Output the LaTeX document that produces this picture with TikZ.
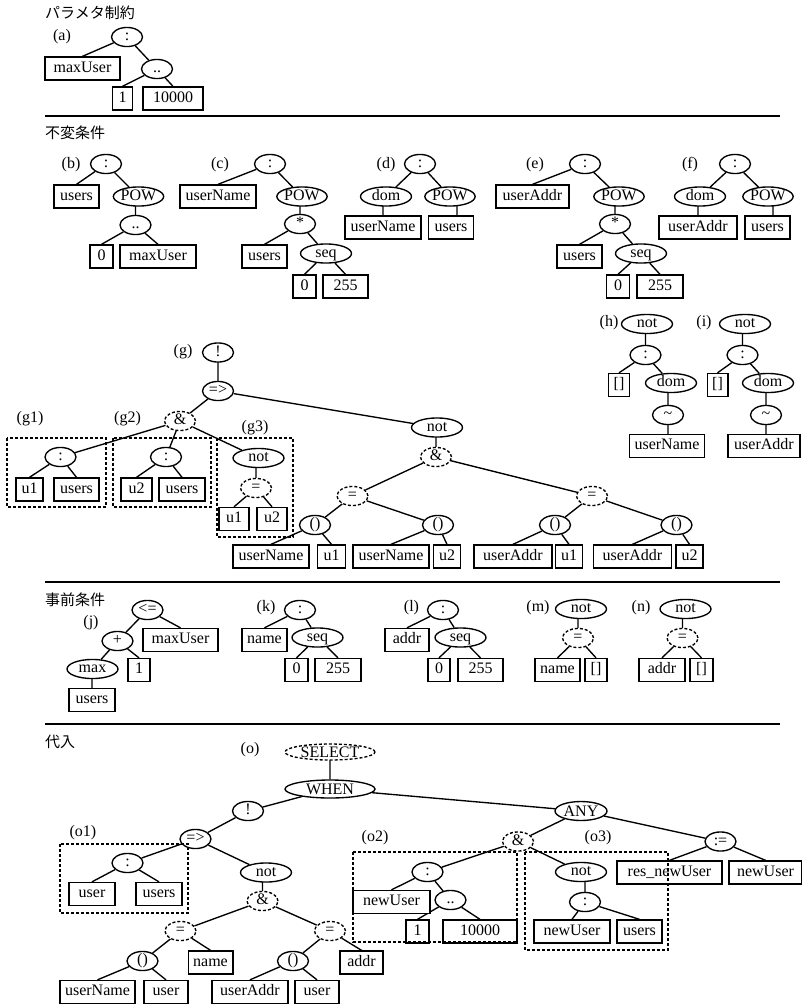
\documentclass[tikz,border=0pt]{standalone}
\usepackage{fontspec}
\setmainfont{Liberation Serif}
\newfontfamily\jpfont{Noto Sans CJK JP}
\usetikzlibrary{shapes.geometric,backgrounds}

\tikzset{
  txt/.style={font=\fontsize{16}{19}\selectfont},
  bx/.style={txt, draw, fill=white, rectangle, line width=1.35pt, inner xsep=5pt, inner ysep=0pt,
             minimum height=23pt, text height=10.5pt, text depth=3pt},
  el/.style={txt, draw, fill=white, ellipse, line width=1.35pt, inner sep=0pt,
             minimum width=31pt, minimum height=19pt, text height=10.5pt, text depth=3pt},
  elw/.style={el, minimum width=51pt},
  dsh/.style={dash pattern=on 3pt off 2pt},
  del/.style={el, dsh},
  caps/.style={text height=10.5pt, text depth=0pt},
  lbl/.style={txt, inner sep=0pt},
  ttl/.style={font=\jpfont\fontsize{15}{18}\selectfont, anchor=west, inner sep=0pt},
  ln/.style={line width=1.35pt},
  grp/.style={draw, line width=1.35pt, dsh},
  secline/.style={line width=1.7pt},
}

\begin{document}
\begin{tikzpicture}[x=1pt,y=-1pt]
\useasboundingbox (0,0) rectangle (802,1005);

% ---------- parameter constraint ----------
\node[ttl] (t1) at (45,13) {パラメタ制約};
\node[lbl] (la) at (62,37) {(a)};
\node[el] (a0) at (127,37) {:};
\node[bx, minimum width=75pt] (a1) at (82.5,68.5) {maxUser};
\node[el] (a2) at (157,69) {..};
\node[bx, minimum width=20pt] (a3) at (122.5,98.5) {1};
\node[bx, minimum width=60pt] (a4) at (173,98.5) {10000};

\draw[secline] (45,116) -- (780,116);

% ---------- invariants ----------
\node[ttl] (t2) at (45,133) {不変条件};

% (b)
\node[lbl] (lb) at (71,165) {(b)};
\node[el] (b0) at (106,164) {:};
\node[bx, minimum width=45pt] (b1) at (76.5,196.5) {users};
\node[el] (b2) at (138.5,196.5) {POW};
\node[el] (b3) at (135.5,225) {..};
\node[bx, minimum width=23pt] (b4) at (101.5,256.5) {0};
\node[bx, minimum width=76pt] (b5) at (158,256.5) {maxUser};

% (c)
\node[lbl] (lc) at (220,165) {(c)};
\node[el] (c0) at (270,164) {:};
\node[bx, minimum width=76pt] (c1) at (218,196.5) {userName};
\node[el] (c2) at (302,196.5) {POW};
\node[el] (c3) at (300,224) {*};
\node[bx, minimum width=45pt] (c4) at (264.5,256.5) {users};
\node[elw] (c5) at (326,253.5) {seq};
\node[bx, minimum width=23pt] (c6) at (304.5,286.5) {0};
\node[bx, minimum width=45pt] (c7) at (345.5,286.5) {255};

% (d)
\node[lbl] (ld) at (386,165) {(d)};
\node[el] (d0) at (420,164) {:};
\node[elw] (d1) at (386,196.5) {dom};
\node[el] (d2) at (450,196.5) {POW};
\node[bx, minimum width=76pt] (d3) at (383,227.5) {userName};
\node[bx, minimum width=45pt] (d4) at (451,227.5) {users};
\coordinate (d4x) at ([xshift=6pt]d4.center);

% (e)
\node[lbl] (le) at (535,165) {(e)};
\node[el] (e0) at (585,164) {:};
\node[bx, minimum width=73pt] (e1) at (532.5,196.5) {userAddr};
\node[el] (e2) at (619,196.5) {POW};
\node[el] (e3) at (615,224) {*};
\node[bx, minimum width=45pt] (e4) at (579.5,256.5) {users};
\node[elw] (e5) at (641,253.5) {seq};
\node[bx, minimum width=23pt] (e6) at (618,286.5) {0};
\node[bx, minimum width=46pt] (e7) at (660,286.5) {255};

% (f)
\node[lbl] (lf) at (690,165) {(f)};
\node[el] (f0) at (735,164) {:};
\node[elw] (f1) at (700,196.5) {dom};
\node[el] (f2) at (768,196.5) {POW};
\node[bx, minimum width=78pt] (f3) at (698,227.5) {userAddr};
\node[bx, minimum width=45pt] (f4) at (767.5,227.5) {users};
\coordinate (f4x) at ([xshift=5.5pt]f4.center);

% (g)
\node[lbl] (lg) at (183,352) {(g)};
\node[el] (g0) at (218,352.5) {!};
\node[el] (g1) at (218,391) {=>};
\node[del] (g2) at (180,421) {\&};
\node[lbl] (lg1) at (30,419) {(g1)};
\node[lbl] (lg2) at (127.5,419) {(g2)};
\node[lbl] (lg3) at (255,428) {(g3)};
\node[el] (ga) at (60.5,457) {:};
\node[bx, minimum width=27pt] (gau) at (29.5,489.5) {u1};
\node[bx, minimum width=45pt] (gas) at (76.5,489.5) {users};
\node[el] (gb) at (166,457) {:};
\node[bx, minimum width=31pt] (gbu) at (136.5,489.5) {u2};
\node[bx, minimum width=46pt] (gbs) at (182,489.5) {users};
\node[elw] (gc) at (258.5,458) {not};
\node[del] (gd) at (256,488) {=};
\node[bx, minimum width=30pt] (gd1) at (234,519) {u1};
\node[bx, minimum width=30pt] (gd2) at (272,519) {u2};
\node[elw] (g7) at (437,427.5) {not};
\node[del] (g8) at (436,457) {\&};
\node[del] (g9) at (352.5,496) {=};
\node[del] (g10) at (592,496) {=};
\node[el] (p1) at (315,525) {()};
\node[el] (p2) at (438,525) {()};
\node[el] (p3) at (555,525) {()};
\node[el] (p4) at (676.5,525) {()};
\node[bx, minimum width=76pt] (q1) at (271,556.5) {userName};
\node[bx, minimum width=28pt] (q2) at (331.5,556.5) {u1};
\node[bx, minimum width=76pt] (q3) at (391,556.5) {userName};
\node[bx, minimum width=27pt] (q4) at (447,556.5) {u2};
\node[bx, minimum width=78pt] (q5) at (513,556.5) {userAddr};
\node[bx, minimum width=27pt] (q6) at (569,556.5) {u1};
\node[bx, minimum width=78pt] (q7) at (632.5,556.5) {userAddr};
\node[bx, minimum width=27pt] (q8) at (689.5,556.5) {u2};

% (h)
\node[lbl] (lh) at (609,323) {(h)};
\node[elw] (h0) at (647,324) {not};
\node[el] (h1) at (645.5,355) {:};
\node[bx, minimum width=20pt] (h2) at (619,385) {[]};
\node[elw] (h3) at (671,383) {dom};
\node[el] (h4) at (668,415) {\textasciitilde};
\node[bx, minimum width=72pt] (h5) at (667,446) {userName};

% (i)
\node[lbl] (li) at (704,323) {(i)};
\node[elw] (i0) at (745,324) {not};
\node[el] (i1) at (742.5,355) {:};
\node[bx, minimum width=18pt] (i2) at (717.5,385) {[]};
\node[elw] (i3) at (768,383) {dom};
\node[el] (i4) at (766,415) {\textasciitilde};
\node[bx, minimum width=72pt] (i5) at (764,446) {userAddr};

\draw[secline] (45,582) -- (780,582);

% ---------- preconditions ----------
\node[ttl] (t3) at (45,600) {事前条件};

% (j)
\node[lbl] (lj) at (91,623) {(j)};
\node[el] (j0) at (147.5,610) {<=};
\node[el] (j1) at (117.5,641) {+};
\node[bx, minimum width=75pt] (j2) at (180.5,640) {maxUser};
\node[elw] (j3) at (92.5,669) {max};
\node[bx, minimum width=22pt] (j4) at (139,670) {1};
\node[bx, minimum width=46pt] (j5) at (92,700) {users};

% (k)
\node[lbl] (lk) at (266,608) {(k)};
\node[el] (k0) at (300,610) {:};
\node[bx, minimum width=45pt] (k1) at (264.5,640) {name};
\node[elw] (k2) at (317.5,637.5) {seq};
\node[bx, minimum width=23pt] (k3) at (296.5,670) {0};
\node[bx, minimum width=46pt] (k4) at (338,670) {255};

% (l)
\node[lbl] (ll) at (411.5,608) {(l)};
\node[el] (l0) at (443,610) {:};
\node[bx, minimum width=44pt] (l1) at (407,640) {addr};
\node[elw] (l2) at (460.5,637.5) {seq};
\node[bx, minimum width=22pt] (l3) at (439,670) {0};
\node[bx, minimum width=45pt] (l4) at (480.5,670) {255};

% (m)
\node[lbl] (lm) at (538,608) {(m)};
\node[elw] (m0) at (581,609) {not};
\node[del] (m1) at (578,638) {=};
\node[bx, minimum width=45pt] (m2) at (557.5,670) {name};
\node[bx, minimum width=22pt] (m3) at (596,670) {[]};

% (n)
\node[lbl] (ln) at (641,608) {(n)};
\node[elw] (n0) at (685.5,609) {not};
\node[del] (n1) at (682.5,638) {=};
\node[bx, minimum width=46pt] (n2) at (662,670) {addr};
\node[bx, minimum width=23pt] (n3) at (701.5,670) {[]};

\draw[secline] (45,724) -- (780,724);

% ---------- substitution ----------
\node[ttl] (t4) at (45,742) {代入};
\node[lbl] (lo) at (250,750) {(o)};
\node[del, caps, minimum width=90pt, minimum height=16pt] (o0) at (330,752) {SELECT};
\node[el, caps, minimum width=90pt, minimum height=18pt] (o1) at (330,789) {WHEN};
\node[el] (o2) at (248,811) {!};
\node[el] (o3) at (195.5,839) {=>};
\node[lbl] (lo1) at (83,833) {(o1)};
\node[el] (o4) at (127.5,863) {:};
\node[bx, minimum width=46pt] (o5) at (92,894) {user};
\node[bx, minimum width=46pt] (o6) at (159,894) {users};
\node[elw] (o7) at (266,872.5) {not};
\node[del] (o8) at (262.5,901) {\&};
\node[del] (o9) at (180.5,931) {=};
\node[el] (o10) at (142.5,961) {()};
\node[bx, minimum width=39pt] (o11) at (210.5,962.5) {name};
\node[bx, minimum width=71pt] (o12) at (97.5,992) {userName};
\node[bx, minimum width=44pt] (o13) at (166,992) {user};
\node[del] (o14) at (330,931) {=};
\node[el] (o15) at (293,961) {()};
\node[bx, minimum width=43pt] (o16) at (361.5,962.5) {addr};
\node[bx, minimum width=76pt] (o17) at (250,992) {userAddr};
\node[bx, minimum width=44pt] (o18) at (317,992) {user};
\node[lbl] (lo2) at (375,838) {(o2)};
\node[el, caps, minimum width=52pt] (o19) at (581,811) {ANY};
\node[del] (o20) at (518,841.5) {\&};
\node[lbl] (lo3) at (598,838) {(o3)};
\node[el] (o21) at (427.5,872) {:};
\node[bx, minimum width=77pt] (o22) at (391.5,902) {newUser};
\node[el] (o23) at (450.5,900) {..};
\node[bx, minimum width=23pt] (o24) at (417.5,931.5) {1};
\node[bx, minimum width=74pt] (o25) at (480,931.5) {10000};
\node[elw] (o26) at (581,872) {not};
\node[el] (o27) at (585,902) {:};
\node[bx, minimum width=76pt] (o28) at (572,931.5) {newUser};
\node[bx, minimum width=45pt] (o29) at (639.5,931.5) {users};
\node[el] (o30) at (720.5,841.5) {:=};
\node[bx, minimum width=105pt] (o31) at (669.5,872.5) {res\_newUser};
\node[bx, minimum width=73pt] (o32) at (765.5,872.5) {newUser};

% dashed groups
\draw[grp] (7,438) rectangle (106,507);
\draw[grp] (113,438) rectangle (211,507);
\draw[grp] (217,438) rectangle (293,537);
\draw[grp] (60,844) rectangle (188,913);
\draw[grp] (353,852) rectangle (517,942);
\draw[grp] (525,852) rectangle (668,950);

% ---------- connectors ----------
\begin{pgfonlayer}{background}
\draw[ln] (a0) -- (a1.north) (a0) -- (a2) (a2) -- (a3.north) (a2) -- (a4.north);

\draw[ln] (b0) -- (b1.north) (b0) -- (b2) (b3) -- (b3 |- b2) (b3) -- (b4.north) (b3) -- (b5.north);
\draw[ln] (c0) -- (c1.north) (c0) -- (c2) (c3) -- (c3 |- c2) (c3) -- (c4.north) (c3) -- (c5)
          (c5) -- (c6.north) (c5) -- (c7.north);
\draw[ln] (d0) -- (d1) (d0) -- (d2) (d3) -- (d3 |- d1) (d4x) -- (d4x |- d2);
\draw[ln] (e0) -- (e1.north) (e0) -- (e2) (e3) -- (e3 |- e2) (e3) -- (e4.north) (e3) -- (e5)
          (e5) -- (e6.north) (e5) -- (e7.north);
\draw[ln] (f0) -- (f1) (f0) -- (f2) (f3) -- (f3 |- f1) (f4x) -- (f4x |- f2);

\draw[ln] (g1) -- (g1 |- g0) (g1) -- (g2) (g1) -- (g7);
\draw[ln] (g2) -- (ga) (g2) -- (gb) (g2) -- (gc);
\draw[ln] (ga) -- (gau.north) (ga) -- (gas.north) (gb) -- (gbu.north) (gb) -- (gbs.north);
\draw[ln] (gd) -- (gd |- gc) (gd) -- (gd1.north) (gd) -- (gd2.north);
\draw[ln] (g8) -- (g8 |- g7) (g8) -- (g9) (g8) -- (g10);
\draw[ln] (g9) -- (p1) (g9) -- (p2) (g10) -- (p3) (g10) -- (p4);
\draw[ln] (p1) -- (q1.north) (p1) -- (q2.north) (p2) -- (q3.north) (p2) -- (q4.north)
          (p3) -- (q5.north) (p3) -- (q6.north) (p4) -- (q7.north) (p4) -- (q8.north);

\draw[ln] (h1) -- (h1 |- h0) (h1) -- (h2.north) (h1) -- (h3) (h4) -- (h4 |- h3) (h4) -- (h4 |- h5);
\draw[ln] (i1) -- (i1 |- i0) (i1) -- (i2.north) (i1) -- (i3) (i4) -- (i4 |- i3) (i4) -- (i4 |- i5);

\draw[ln] (j0) -- (j1) (j0) -- (j2.north) (j1) -- (j3) (j1) -- (j4.north) (j5) -- (j5 |- j3);
\draw[ln] (k0) -- (k1.north) (k0) -- (k2) (k2) -- (k3.north) (k2) -- (k4.north);
\draw[ln] (l0) -- (l1.north) (l0) -- (l2) (l2) -- (l3.north) (l2) -- (l4.north);
\draw[ln] (m1) -- (m1 |- m0) (m1) -- (m2.north) (m1) -- (m3.north);
\draw[ln] (n1) -- (n1 |- n0) (n1) -- (n2.north) (n1) -- (n3.north);

\draw[ln] (o1) -- (o1 |- o0) (o1) -- (o2) (o1) -- (o19) (o2) -- (o3);
\draw[ln] (o3) -- (o4) (o3) -- (o7) (o4) -- (o5.north) (o4) -- (o6.north);
\draw[ln] (o8) -- (o8 |- o7) (o8) -- (o9) (o8) -- (o14);
\draw[ln] (o9) -- (o10) (o9) -- (o11.north) (o10) -- (o12.north) (o10) -- (o13.north);
\draw[ln] (o14) -- (o15) (o14) -- (o16.north) (o15) -- (o17.north) (o15) -- (o18.north);
\draw[ln] (o19) -- (o20) (o19) -- (o30) (o20) -- (o21) (o20) -- (o26);
\draw[ln] (o21) -- (o22.north) (o21) -- (o23) (o23) -- (o24.north) (o23) -- (o25.north);
\draw[ln] (o27) -- (o27 |- o26) (o27) -- (o28.north) (o27) -- (o29.north);
\draw[ln] (o30) -- (o31.north) (o30) -- (o32.north);
\end{pgfonlayer}
\end{tikzpicture}
\end{document}
